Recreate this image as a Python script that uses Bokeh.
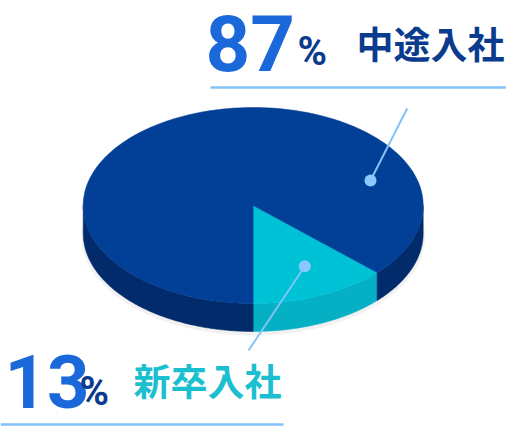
import numpy as np
from bokeh.plotting import figure
from bokeh.models import Range1d
from bokeh.core.properties import value
from bokeh.embed import file_html
from bokeh.resources import INLINE

# ---- data ----
categories = ["中途入社", "新卒入社"]
shares = [87, 13]
pct_labels = ["87", "13"]
pct_sign = ["%", "%"]

# ---- style / geometry (pixel coordinates) ----
W, H = 506, 426
CX, CY, RX, RY, DEPTH = 252.7, 205.0, 170.0, 98.0, 28.0
top_colors = ["#023f97", "#00c2d6"]
side_colors = ["#022b6c", "#05afc4"]
label_colors = ["#0b3b8d", "#1cbfd0"]
digit_color = "#1a68da"
line_color = "#84c2f8"

p = figure(width=W, height=H, output_backend="svg", toolbar_location=None,
           x_range=Range1d(0, W), y_range=Range1d(H, 0),
           min_border=0, min_border_left=0, min_border_right=0,
           min_border_top=0, min_border_bottom=0)
p.axis.visible = False
p.grid.visible = False
p.outline_line_color = None
p.background_fill_color = "white"
p.border_fill_color = "white"

# slice angles (screen, y-down param): start straight down (90 deg), sweep upward
order = [1, 0]
slices = {}
start = 90.0
for idx in order:
    end = start - shares[idx] * 3.6
    slices[idx] = (end, start)
    start = end

def pt(tdeg, dy=0.0):
    r = np.radians(tdeg)
    return CX + RX * np.cos(r), CY + RY * np.sin(r) + dy

# faint shadow
sx = np.linspace(0, 360, 200)
p.patch(CX + (RX + 2) * np.cos(np.radians(sx)), CY + DEPTH + 3 + (RY + 1) * np.sin(np.radians(sx)),
        fill_color="#000000", fill_alpha=0.05, line_color=None)

# side faces
for idx in order:
    a, b = slices[idx]
    for k in range(-2, 3):
        lo, hi = max(a, 0 + 360 * k), min(b, 180 + 360 * k)
        if hi > lo:
            ts = np.linspace(lo, hi, 120)
            xs_top, ys_top = pt(ts)
            xs_bot, ys_bot = pt(ts[::-1], DEPTH)
            p.patch(np.concatenate([xs_top, xs_bot]), np.concatenate([ys_top, ys_bot]),
                    fill_color=side_colors[idx], line_color=side_colors[idx], line_width=0.5)

# top faces
for idx in order:
    a, b = slices[idx]
    ts = np.linspace(a, b, 300)
    xs, ys = pt(ts)
    p.patch(np.concatenate([[CX], xs]), np.concatenate([[CY], ys]),
            fill_color=top_colors[idx], line_color=top_colors[idx], line_width=0.5)

# leader lines and dots
lead_x = [[406.7, 370.0], [304.3, 248.0]]
lead_y = [[108.0, 180.0], [265.7, 350.0]]
p.multi_line(lead_x, lead_y, line_color=line_color, line_width=2)
p.scatter([370.0, 304.3], [180.0, 265.7], size=12, fill_color="#8ac7fd", line_color=None)

# underlines
p.segment([210, 0], [87, 424], [506, 283], [87, 424], line_color=line_color, line_width=2.5)

# texts
p.text([205], [42.5], text=[pct_labels[0]], text_font=value("Roboto"), text_font_style="bold",
       text_font_size="78px", text_color=digit_color, text_baseline="middle",
       text_align="left")
p.text([4], [380.5], text=[pct_labels[1]], text_font=value("Roboto"), text_font_style="bold",
       text_font_size="74px", text_color=digit_color, text_baseline="middle",
       text_align="left")
p.text([297, 79], [51, 390.5], text=pct_sign, text_font=value("Roboto"), text_font_style="bold",
       text_font_size="40px", text_color="#0b3b8d", text_baseline="middle", text_align="left")
p.text([356, 133], [42.5, 379], text=categories, text_font=value("Noto Sans CJK JP"),
       text_font_style="bold", text_font_size="37px", text_color=label_colors,
       text_baseline="middle", text_align="left")

open("out.html", "w").write(file_html(p, INLINE))
